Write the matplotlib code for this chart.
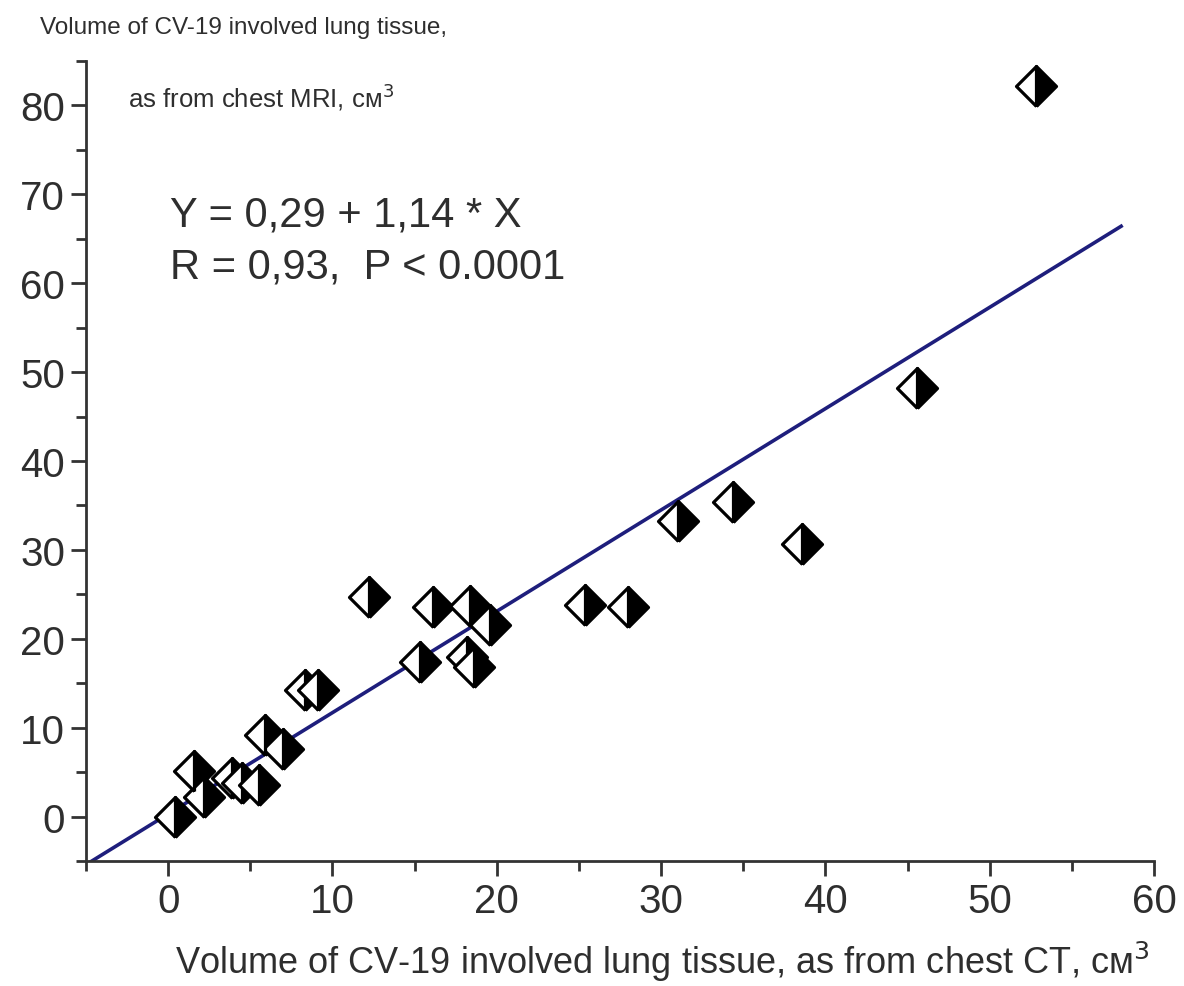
import matplotlib
matplotlib.use("Agg")
import matplotlib.pyplot as plt
from matplotlib.markers import MarkerStyle
import numpy as np

# ── Data ─────────────────────────────────────────────────────────────────────
ct_volume = [0.4, 2.2, 1.6, 3.9, 4.5, 5.5, 7.0, 5.9, 8.3, 9.1, 12.2, 15.3,
             16.1, 18.2, 18.6, 18.4, 19.6, 25.4, 28.0, 31.0, 34.4, 38.6,
             45.6, 52.8]
mri_volume = [0.0, 2.2, 5.1, 4.3, 3.8, 3.5, 7.6, 9.2, 14.2, 14.2, 24.7, 17.4,
              23.6, 18.0, 16.8, 23.7, 21.5, 23.8, 23.6, 33.3, 35.4, 30.7,
              48.2, 82.2]
fit_intercept = 0.29
fit_slope = 1.14
fit_x_range = [-5, 58]

W, H = 1184, 987
plt.rcParams['font.family'] = ['Liberation Sans', 'DejaVu Sans']
TXT = "#2e2e2e"


def fx(px):
    return px / W


def fy(py):
    return 1 - py / H


fig = plt.figure(figsize=(W / 100, H / 100), dpi=100)
ax = fig.add_axes([fx(86), fy(862), fx(1154) - fx(86), fy(62) - fy(862)])

# ── Regression line ──────────────────────────────────────────────────────────
xf = np.array(fit_x_range, dtype=float)
ax.plot(xf, fit_intercept + fit_slope * xf, color="#1e1e7c", lw=2.6, zorder=2)

# ── Half-filled diamonds ─────────────────────────────────────────────────────
diamond = MarkerStyle("D", fillstyle="right", joinstyle="round")
ax.plot(ct_volume, mri_volume, linestyle="none", marker=diamond, markersize=20,
        markerfacecolor="black", markerfacecoloralt="white",
        markeredgecolor="black", markeredgewidth=2.3, zorder=3)

ax.set_xlim(-5, 60)
ax.set_ylim(-5, 85)
ax.set_xticks(np.arange(0, 61, 10))
ax.set_yticks(np.arange(0, 81, 10))
ax.set_xticks(np.arange(-5, 61, 5), minor=True)
ax.set_yticks(np.arange(-5, 86, 5), minor=True)
for side in ("top", "right"):
    ax.spines[side].set_visible(False)
for side in ("left", "bottom"):
    ax.spines[side].set_linewidth(2.0)
    ax.spines[side].set_color("#333333")
ax.tick_params(which="major", direction="out", length=11, width=2.0,
               color="#333333", labelsize=29, labelcolor=TXT, pad=4)
ax.tick_params(which="minor", direction="out", length=7, width=2.0,
               color="#333333")

# ── Texts ────────────────────────────────────────────────────────────────────
fig.text(fx(40), fy(28), "Volume of CV-19 involved lung tissue,",
         fontsize=17.5, color=TXT, ha="left", va="center")
fig.text(fx(128), fy(97), "as from chest MRI, см$^{3}$",
         fontsize=18.5, color=TXT, ha="left", va="center")
fig.text(fx(170), fy(216), "Y = 0,29 + 1,14 * X",
         fontsize=30, color=TXT, ha="left", va="center")
fig.text(fx(170), fy(268), "R = 0,93,  P < 0.0001",
         fontsize=30, color=TXT, ha="left", va="center")
fig.text(fx(175), fy(962),
         "Volume of CV-19 involved lung tissue, as from chest CT, см$^{3}$",
         fontsize=26, color=TXT, ha="left", va="center")

fig.savefig("out.png", dpi=100, facecolor="white")
